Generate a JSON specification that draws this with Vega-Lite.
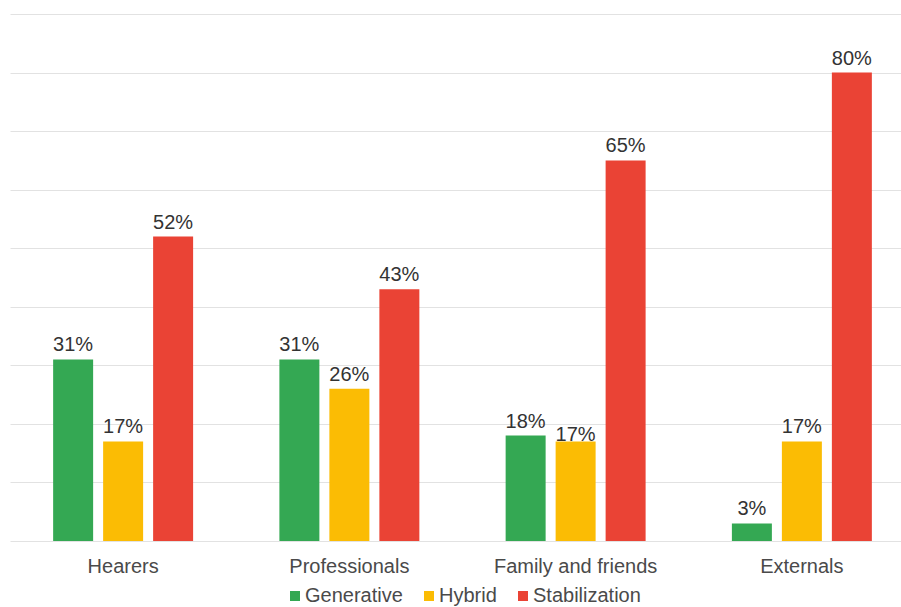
{
  "$schema": "https://vega.github.io/schema/vega-lite/v6.json",
  "autosize": {"type": "none"},
  "width": 891,
  "height": 527,
  "padding": {"left": 10, "top": 14, "right": 0, "bottom": 66},
  "background": "white",
  "config": {
    "view": {"stroke": null},
    "font": "Liberation Sans"
  },
  "data": {
    "values": [
      {"group": "Hearers", "type": "Generative", "value": 0.31},
      {"group": "Hearers", "type": "Hybrid", "value": 0.17},
      {"group": "Hearers", "type": "Stabilization", "value": 0.52},
      {"group": "Professionals", "type": "Generative", "value": 0.31},
      {"group": "Professionals", "type": "Hybrid", "value": 0.26},
      {"group": "Professionals", "type": "Stabilization", "value": 0.43},
      {"group": "Family and friends", "type": "Generative", "value": 0.18},
      {"group": "Family and friends", "type": "Hybrid", "value": 0.17},
      {"group": "Family and friends", "type": "Stabilization", "value": 0.65},
      {"group": "Externals", "type": "Generative", "value": 0.03},
      {"group": "Externals", "type": "Hybrid", "value": 0.17},
      {"group": "Externals", "type": "Stabilization", "value": 0.80}
    ]
  },
  "encoding": {
    "x": {
      "field": "group",
      "type": "nominal",
      "sort": ["Hearers", "Professionals", "Family and friends", "Externals"],
      "scale": {"range": [0, 905], "paddingInner": 0, "paddingOuter": 0},
      "axis": {
        "title": null,
        "labelAngle": 0,
        "ticks": false,
        "tickSize": 0,
        "domain": false,
        "labelFontSize": 20,
        "labelColor": "#4a4a4a",
        "labelBaseline": "alphabetic",
        "labelPadding": 31,
        "labelFont": "Liberation Sans"
      }
    },
    "xOffset": {
      "field": "type",
      "type": "nominal",
      "sort": ["Generative", "Hybrid", "Stabilization"],
      "scale": {"paddingInner": 0.2, "paddingOuter": 0.863}
    },
    "y": {
      "field": "value",
      "type": "quantitative",
      "scale": {"domain": [0, 0.9], "nice": false},
      "axis": {
        "title": null,
        "labels": false,
        "ticks": false,
        "domain": false,
        "values": [0, 0.1, 0.2, 0.3, 0.4, 0.5, 0.6, 0.7, 0.8, 0.9],
        "gridColor": "#e2e2e2",
        "gridWidth": 1
      }
    }
  },
  "layer": [
    {
      "mark": {"type": "bar"},
      "encoding": {
        "color": {
          "field": "type",
          "type": "nominal",
          "sort": ["Generative", "Hybrid", "Stabilization"],
          "scale": {
            "domain": ["Generative", "Hybrid", "Stabilization"],
            "range": ["#34A853", "#FBBC04", "#EA4335"]
          },
          "legend": {
            "title": null,
            "orient": "none",
            "direction": "horizontal",
            "legendX": 275,
            "legendY": 572,
            "symbolType": "square",
            "symbolSize": 100,
            "symbolStrokeWidth": 0,
            "labelFontSize": 20,
            "labelColor": "#4a4a4a",
            "labelFont": "Liberation Sans",
            "labelOffset": 0,
            "columnPadding": 16
          }
        }
      }
    },
    {
      "transform": [{"filter": "!(datum.group === 'Family and friends' && datum.type === 'Hybrid')"}],
      "mark": {"type": "text", "baseline": "alphabetic", "dy": -8, "fontSize": 20, "color": "#333333", "font": "Liberation Sans"},
      "encoding": {
        "text": {"field": "value", "type": "quantitative", "format": ".0%"},
        "detail": {"field": "type"}
      }
    },
    {
      "transform": [{"filter": "datum.group === 'Family and friends' && datum.type === 'Hybrid'"}],
      "mark": {"type": "text", "baseline": "alphabetic", "dy": 0, "fontSize": 20, "color": "#333333", "font": "Liberation Sans"},
      "encoding": {
        "text": {"field": "value", "type": "quantitative", "format": ".0%"},
        "detail": {"field": "type"}
      }
    }
  ]
}
